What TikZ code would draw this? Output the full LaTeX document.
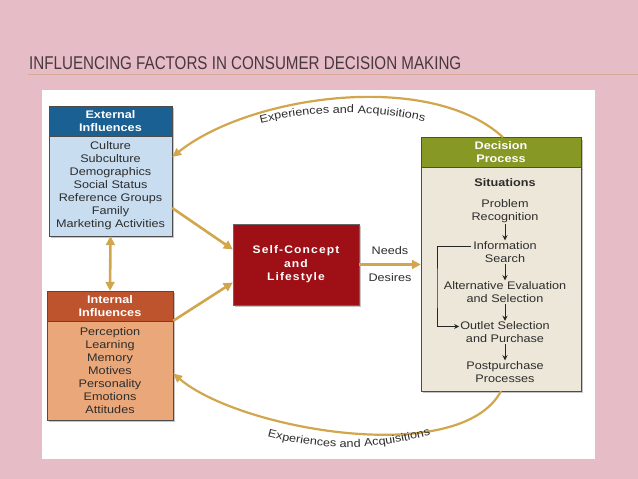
\documentclass[tikz,border=0pt]{standalone}
\usepackage{fontspec}
\setmainfont{Liberation Sans}
\newfontfamily\boxfont[FakeStretch=1.15]{Liberation Sans}
\newfontfamily\titlefont[FakeStretch=0.82]{Liberation Sans}
\newfontfamily\selffont[FakeStretch=1.1,LetterSpace=10]{Liberation Sans}
\usetikzlibrary{calc}
\usetikzlibrary{arrows.meta}
\usetikzlibrary{shadows}
\usetikzlibrary{decorations.text}

\definecolor{bgpink}{RGB}{230,188,198}
\definecolor{titlegray}{RGB}{72,56,62}
\definecolor{titleline}{RGB}{214,170,150}
\definecolor{extblue}{RGB}{27,96,146}
\definecolor{extlight}{RGB}{201,221,241}
\definecolor{intred}{RGB}{190,84,46}
\definecolor{intlight}{RGB}{233,167,122}
\definecolor{selfred}{RGB}{158,15,22}
\definecolor{decgreen}{RGB}{136,152,36}
\definecolor{declight}{RGB}{236,231,216}
\definecolor{goldline}{RGB}{209,166,76}
\definecolor{boxtext}{RGB}{45,45,45}

\begin{document}
\begin{tikzpicture}[x=1pt,y=-1pt,
  every node/.style={font=\boxfont\fontsize{11}{13}\selectfont,text=boxtext,align=center,inner sep=0pt},
  hdbox/.style={draw=black!70,thin,minimum width=#1,minimum height=30pt,text=white,
    font=\boxfont\bfseries\fontsize{11}{13}\selectfont,drop shadow={shadow xshift=2pt,shadow yshift=-2pt,opacity=.45}},
  bdbox/.style={draw=black!70,thin,minimum width=#1,drop shadow={shadow xshift=2pt,shadow yshift=-2pt,opacity=.45}},
  selfbox/.style={fill=selfred,draw=black!60,thin,minimum width=126pt,minimum height=81pt,text=white,
    font=\selffont\bfseries\fontsize{11}{13.5}\selectfont,drop shadow={shadow xshift=2pt,shadow yshift=-2pt,opacity=.45}},
  goldarr/.style={draw=goldline,line width=2.6pt,-{Triangle[length=9pt,width=9pt]}},
  goldboth/.style={draw=goldline,line width=2.6pt,{Triangle[length=9pt,width=9pt]}-{Triangle[length=9pt,width=9pt]}},
  goldarc/.style={draw=goldline,line width=2.2pt,-{Triangle[length=9pt,width=8pt]}},
  smallarr/.style={draw=black!85,line width=0.9pt,-{Stealth[length=5pt,width=5pt]},shorten <=1pt,shorten >=1pt}]

\useasboundingbox (0,0) rectangle (638,479);
\fill[bgpink] (0,0) rectangle (638,479);

% title
\node[anchor=west,font=\titlefont\fontsize{18.5}{20}\selectfont,text=titlegray] (title) at (29,63) {INFLUENCING FACTORS IN CONSUMER DECISION MAKING};
\draw[titleline,thin] (28,74) -- (638,74);
\fill[white] (42,90) rectangle (595,459);

% external influences
\node[hdbox=123pt,fill=extblue] (exth) at (110.5,121) {External\\Influences};
\node[bdbox=123pt,minimum height=100pt,fill=extlight] (extb) at (110.5,186) {Culture\\Subculture\\Demographics\\Social Status\\Reference Groups\\Family\\Marketing Activities};

% internal influences
\node[hdbox=126pt,fill=intred] (inth) at (110,306) {Internal\\Influences};
\node[bdbox=126pt,minimum height=99pt,fill=intlight] (intb) at (110,370.5) {Perception\\Learning\\Memory\\Motives\\Personality\\Emotions\\Attitudes};

% self-concept
\node[selfbox] (self) at (296,264.5) {Self-Concept\\and\\Lifestyle};

% decision process
\node[hdbox=160pt,fill=decgreen] (dech) at (501,152.5) {Decision\\Process};
\node[bdbox=160pt,minimum height=224pt,fill=declight] (decb) at (501,279) {};
\node[font=\boxfont\bfseries\fontsize{11}{13}\selectfont] (sit) at (505,183) {Situations};
\node (prob) at (505,211.5) {Problem\\Recognition};
\node (info) at (505,252) {Information\\Search};
\node (alt) at (505,292) {Alternative Evaluation\\and Selection};
\node (outl) at (505,332.5) {Outlet Selection\\and Purchase};
\node (post) at (505,372) {Postpurchase\\Processes};
\coordinate (brk) at (437,290);

\draw[smallarr] (prob) -- (info);
\draw[smallarr] (info) -- (alt);
\draw[smallarr] (alt) -- (outl);
\draw[smallarr] (outl) -- (post);
\draw[smallarr,shorten <=2pt] ([yshift=6]info.west) -| (brk) |- ([yshift=6]outl.west);

% needs and desires
\draw[goldarr] (self.east) -- (self.east -| decb.west);
\node (needs) at (390,251) {Needs};
\node (desires) at (390,278) {Desires};

% influences into self-concept
\draw[goldarr] ([yshift=-22]extb.east) -- ([yshift=15]self.west);
\draw[goldarr] (intb.north east) -- ([yshift=-18]self.west);
\draw[goldboth] (extb.south) -- (inth.north);

% feedback arcs
\draw[goldarc] ([xshift=2]dech.north) .. controls (430,70) and (250,95) .. ([yshift=29]extb.east);
\draw[goldarc] (decb.south) .. controls (460,468) and (240,430) .. ([yshift=-3]intb.east);
\path[decorate,decoration={text along path,text color=boxtext,text align=center,
  text={|\boxfont\fontsize{11}{13}\selectfont|Experiences and Acquisitions}}]
  (250,126) .. controls (310,109) and (375,109) .. (435,124);
\path[decorate,decoration={text along path,text color=boxtext,text align=center,
  text={|\boxfont\fontsize{11}{13}\selectfont|Experiences and Acquisitions}}]
  (258,434) .. controls (320,452) and (375,452) .. (440,432);

\end{tikzpicture}
\end{document}
